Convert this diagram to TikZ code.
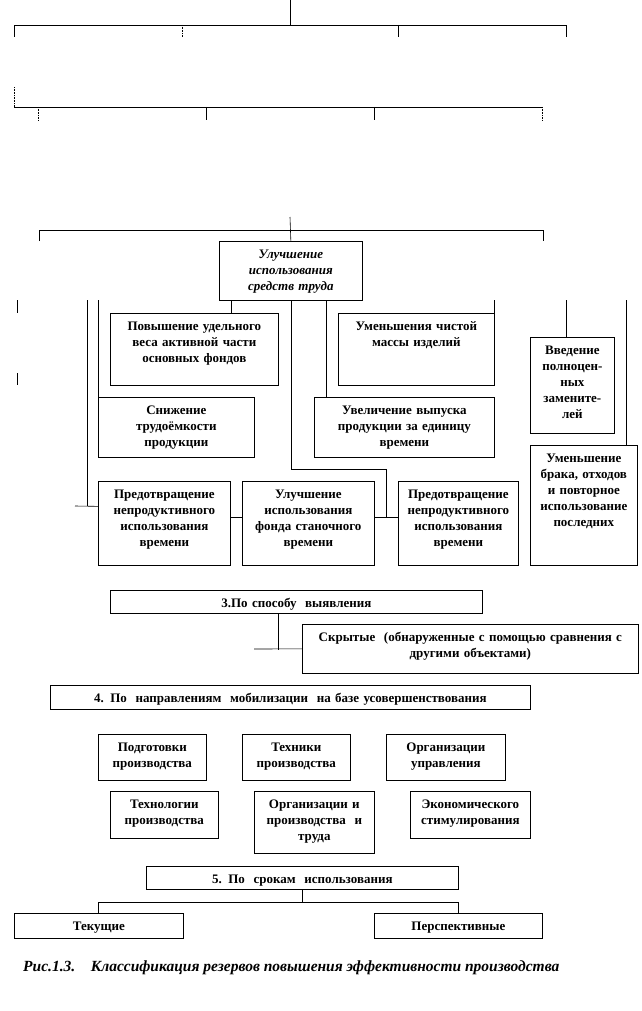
\documentclass[tikz,border=0pt]{standalone}
\usepackage{fontspec}
\setmainfont{Liberation Serif}
\usepackage{tikz}
\usetikzlibrary{positioning, calc}

\begin{document}
\begin{tikzpicture}[x=1pt, y=-1pt,
    rbox/.style={draw, rectangle, line width=0.7pt, anchor=north west, inner sep=0pt,
      font=\fontsize{13}{16}\selectfont\bfseries, align=center, text height=17pt},
    link/.style={line width=0.6pt},
    dlink/.style={line width=0.6pt, densely dotted}
  ]
  \useasboundingbox (0,0) rectangle (641,1011);

  % broken-off upper levels
  \draw[link] (290,0) -- (290,25);
  \draw[link] (14,37) -- (14,25) -- (566,25) -- (566,37);
  \draw[dlink] (182,25) -- (182,37);
  \draw[link] (398,25) -- (398,37);
  \draw[dlink] (14,87) -- (14,107);
  \draw[link] (14,107) -- (543,107);
  \draw[dlink] (38,107) -- (38,120);
  \draw[link] (206,107) -- (206,120);
  \draw[link] (374,107) -- (374,120);
  \draw[dlink] (542,107) -- (542,120);

  % means of labour
  \node[rbox, text width=143pt, text depth=42pt, font=\fontsize{13}{16}\selectfont\bfseries\itshape] (main) at (219,241) {Улучшение\\использования\\средств труда};
  \node[rbox, text width=168pt, text depth=55pt] (povysh) at (110,313) {Повышение удельного\\веса активной части\\основных фондов};
  \node[rbox, text width=156pt, text depth=55pt] (umen) at (338,313) {Уменьшения чистой\\массы изделий};
  \node[rbox, text width=84pt, text depth=79pt] (vved) at (530,337) {Введение\\полноцен-\\ных\\замените-\\лей};
  \node[rbox, text width=156pt, text depth=43pt] (snizh) at (98,397) {Снижение\\трудоёмкости\\продукции};
  \node[rbox, text width=180pt, text depth=43pt] (uvel) at (314,397) {Увеличение выпуска\\продукции за единицу\\времени};
  \node[rbox, text width=107pt, text depth=103pt] (brak) at (530,445) {Уменьшение\\брака, отходов\\и повторное\\использование\\последних};
  \node[rbox, text width=132pt, text depth=67pt] (predA) at (98,481) {Предотвращение\\непродуктивного\\использования\\времени};
  \node[rbox, text width=132pt, text depth=67pt] (fond) at (242,481) {Улучшение\\использования\\фонда станочного\\времени};
  \node[rbox, text width=120pt, text depth=67pt] (predC) at (398,481) {Предотвращение\\непродуктивного\\использования\\времени};

  \draw[link] (290,217) -- (main.north);
  \draw[link] (39,241) -- (39,230) -- (543,230) -- (543,241);
  \draw[link] (17,300) -- (17,313);
  \draw[link] (17,373) -- (17,385);
  \draw[link] (87,300) -- (87,506);
  \draw[link] (75,506) -- ([yshift=17pt]predA.west);
  \draw[link] (snizh.north west) -- ++(0,-97);
  \draw[link] ([xshift=12pt]main.south west) -- ([xshift=121pt]povysh.north west);
  \draw[link] ([xshift=107pt]main.south west) -- ([xshift=12pt]uvel.north west);
  \draw[link] (umen.north east) -- ++(0,-13);
  \draw[link] ([xshift=36pt]vved.north west) -- ++(0,-37);
  \draw[link] ([xshift=-11pt]brak.north east) -- ++(0,-145);
  \draw[link] (main.south) |- (386,469) -- (386,517);
  \draw[link] ([yshift=6pt]predA.east) -- ([yshift=6pt]fond.west);
  \draw[link] ([yshift=6pt]fond.east) -- ([yshift=6pt]predC.west);

  % 3
  \node[rbox, text width=372pt, text depth=6pt] (sposob) at (110,590) {3.По способу\ \ выявления};
  \node[rbox, text width=336pt, text depth=32pt] (skryt) at (302,624) {Скрытые\ \ (обнаруженные с помощью сравнения с\\другими объектами)};
  \draw[link] ([xshift=168pt]sposob.south west) -- ++(0,36);
  \draw[link] (254,649) -- (skryt.west);

  % 4
  \node[rbox, text width=480pt, text depth=7pt] (napr) at (50,685) {4. По\ \ направлениям\ \ мобилизации\ \ на базе усовершенствования};
  \node[rbox, text width=108pt, text depth=29pt] (podg) at (98,734) {Подготовки\\производства};
  \node[rbox, text width=108pt, text depth=29pt] (tekhn) at (242,734) {Техники\\производства};
  \node[rbox, text width=119pt, text depth=29pt] (orgupr) at (386,734) {Организации\\управления};
  \node[rbox, text width=108pt, text depth=30pt] (tekhnol) at (110,791) {Технологии\\производства};
  \node[rbox, text width=120pt, text depth=45pt] (orgtrud) at (254,791) {Организации и\\производства\ \ и\\труда};
  \node[rbox, text width=120pt, text depth=30pt] (ekon) at (410,791) {Экономического\\стимулирования};

  % 5
  \node[rbox, text width=312pt, text depth=6pt] (sroki) at (146,866) {5. По\ \ срокам\ \ использования};
  \node[rbox, text width=169pt, text depth=8pt] (tek) at (14,913) {Текущие};
  \node[rbox, text width=168pt, text depth=8pt] (persp) at (374,913) {Перспективные};
  \draw[link] (sroki.south) -- ++(0,13);
  \draw[link] ([xshift=84pt]tek.north west) -- ++(0,-11) -| ([xshift=84pt]persp.north west);

  \node[anchor=base west, inner sep=0pt, font=\fontsize{15.5}{18}\selectfont\bfseries\itshape] (capt) at (23,971) {Рис.1.3.\quad Классификация резервов повышения эффективности производства};
\end{tikzpicture}
\end{document}
